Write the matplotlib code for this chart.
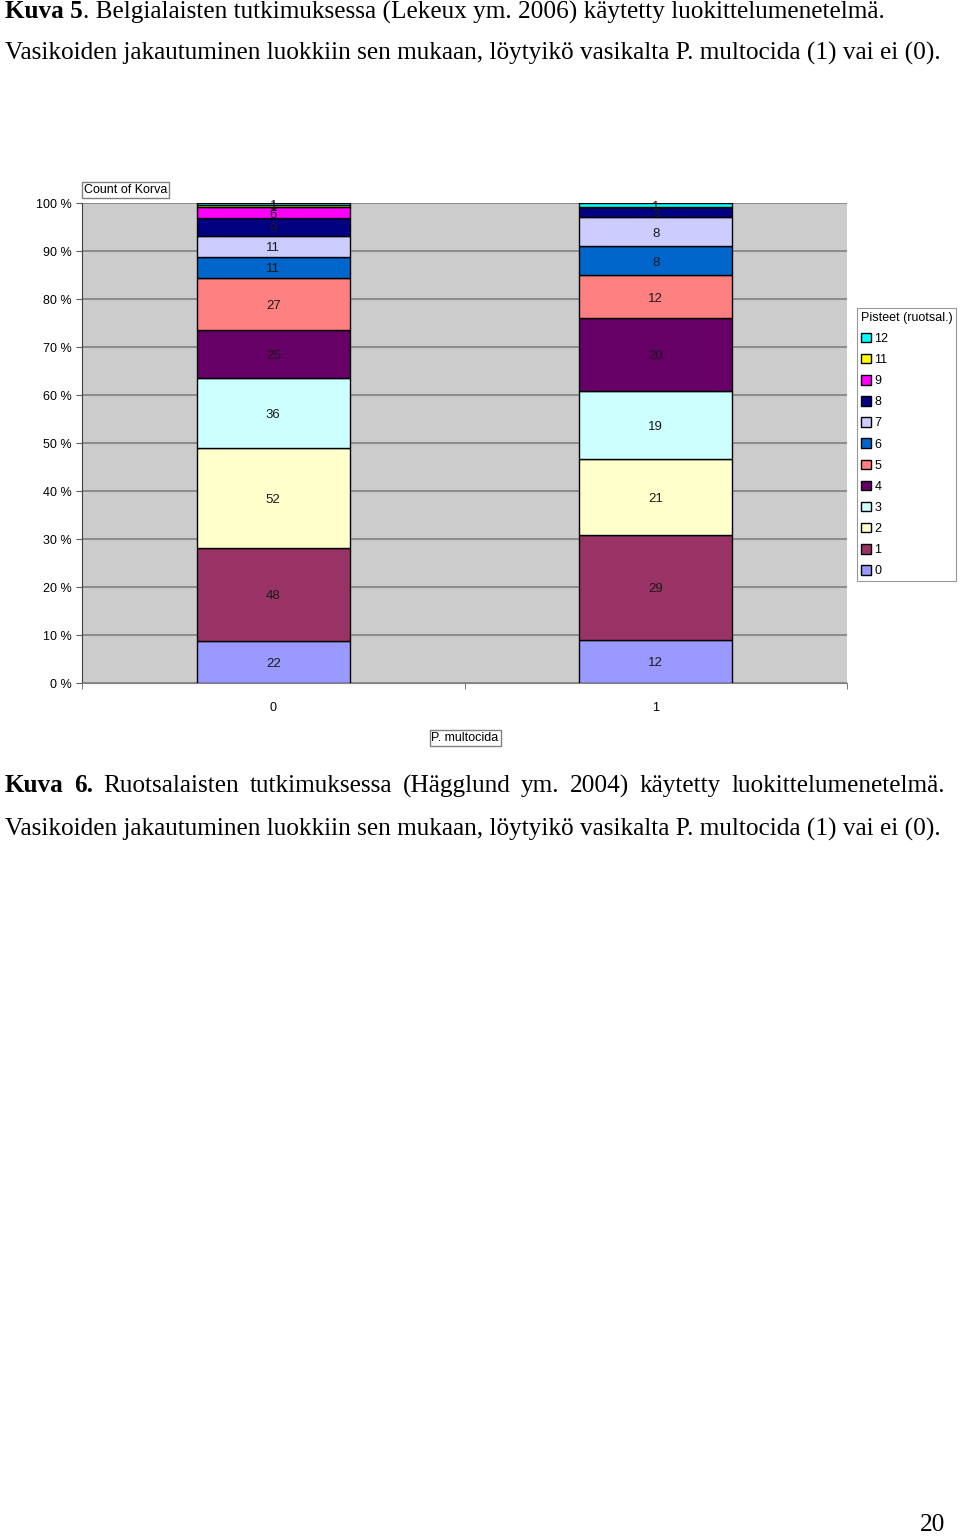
import matplotlib.pyplot as plt
import numpy as np

# categories: P. multocida found (1) or not (0)
categories = ['0', '1']
# score classes (Pisteet, ruotsal.)
classes = ['0', '1', '2', '3', '4', '5', '6', '7', '8', '9', '11', '12']
counts_0 = [22, 48, 52, 36, 25, 27, 11, 11, 9, 6, 1, 1]
counts_1 = [12, 29, 21, 19, 20, 12, 8, 8, 3, 0, 0, 1]
colors = ['#9999FF', '#993366', '#FFFFCC', '#CCFFFF', '#660066', '#FF8080',
          '#0066CC', '#CCCCFF', '#000080', '#FF00FF', '#FFFF00', '#00FFFF']

plt.rcParams['font.family'] = ['Liberation Sans', 'DejaVu Sans']

fig = plt.figure(figsize=(9.6, 15.37), dpi=100)
ax = fig.add_axes([82/960, 1-683/1537, 765/960, 480/1537])
ax.set_facecolor('#CCCCCC')

data = np.array([counts_0, counts_1], dtype=float)
pct = data / data.sum(axis=1, keepdims=True) * 100
x = np.arange(len(categories))
bottom = np.zeros(len(categories))
handles = []
for i, cls in enumerate(classes):
    b = ax.bar(x, pct[:, i], 0.4, bottom=bottom, color=colors[i],
               edgecolor='black', linewidth=1, zorder=3)
    handles.append(b)
    for j in range(len(categories)):
        if data[j, i] > 0:
            ax.text(x[j], bottom[j] + pct[j, i] / 2 - 0.4, str(int(data[j, i])),
                    ha='center', va='center', fontsize=9.5, color='#1a1a1a', zorder=4)
    bottom += pct[:, i]

ax.set_xlim(-0.5, 1.5)
ax.set_ylim(0, 100)
ax.set_yticks(np.arange(0, 101, 10))
ax.set_yticklabels([f'{v} %' for v in range(0, 101, 10)], fontsize=9)
ax.yaxis.grid(True, color='#808080', linewidth=1.2, zorder=1)
ax.set_xticks(x)
ax.set_xticklabels(categories, fontsize=9)
ax.tick_params(axis='x', length=0, pad=14)
ax.set_xticks([-0.5, 0.5, 1.5], minor=True)
ax.tick_params(axis='x', which='minor', length=4, color='#606060')
ax.tick_params(axis='y', length=4, color='#606060')
for s in ['top', 'right']:
    ax.spines[s].set_visible(False)
ax.spines['left'].set_color('#404040')
ax.spines['bottom'].set_color('#808080')

fig.text(84/960, 1-190/1537, 'Count of Korva', fontsize=9, va='center', ha='left',
         bbox=dict(facecolor='white', edgecolor='#808080', boxstyle='square,pad=0.15'))
fig.text(465/960, 1-738/1537, 'P. multocida', fontsize=9, va='center', ha='center',
         bbox=dict(facecolor='white', edgecolor='#808080', boxstyle='square,pad=0.15'))

leg = fig.legend(handles[::-1], classes[::-1], title='Pisteet (ruotsal.)',
                 loc='upper left', bbox_to_anchor=(857/960, 1-308/1537),
                 fontsize=9, title_fontsize=9, fancybox=False, edgecolor='#808080',
                 handlelength=0.8, handleheight=0.8, handletextpad=0.3,
                 labelspacing=0.72, borderpad=0.3, borderaxespad=0, alignment='left')
leg.get_frame().set_linewidth(0.8)

serif = ['Liberation Serif', 'DejaVu Serif']
fs = 18.2
renderer = fig.canvas.get_renderer()

t = fig.text(5/960, 1-12/1537, 'Kuva 5', fontsize=fs, family=serif, fontweight='bold', va='center')
w = t.get_window_extent(renderer).x1
fig.text(w/960, 1-12/1537, '. Belgialaisten tutkimuksessa (Lekeux ym. 2006) käytetty luokittelumenetelmä.',
         fontsize=fs, family=serif, va='center')
fig.text(5/960, 1-53/1537, 'Vasikoiden jakautuminen luokkiin sen mukaan, löytyikö vasikalta P. multocida (1) vai ei (0).',
         fontsize=fs, family=serif, va='center')

# justified line (Kuva 6)
words = [('Kuva', 'bold'), ('6.', 'bold'), ('Ruotsalaisten', 'normal'), ('tutkimuksessa', 'normal'),
         ('(Hägglund', 'normal'), ('ym.', 'normal'), ('2004)', 'normal'), ('käytetty', 'normal'),
         ('luokittelumenetelmä.', 'normal')]
arts = [fig.text(0, 1-786/1537, wd, fontsize=fs, family=serif, fontweight=wt, va='center')
        for wd, wt in words]
widths = [a.get_window_extent(renderer).width for a in arts]
gap = (945 - 5 - sum(widths)) / (len(words) - 1)
xpos = 5
for a, wdt in zip(arts, widths):
    a.set_x(xpos / 960)
    xpos += wdt + gap

fig.text(5/960, 1-829/1537, 'Vasikoiden jakautuminen luokkiin sen mukaan, löytyikö vasikalta P. multocida (1) vai ei (0).',
         fontsize=fs, family=serif, va='center')
fig.text(945/960, 1-1525/1537, '20', fontsize=fs, family=serif, va='center', ha='right')

fig.savefig('out.png', dpi=100)
